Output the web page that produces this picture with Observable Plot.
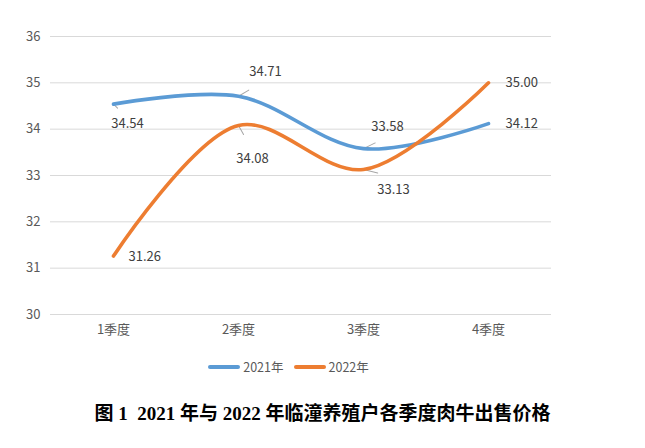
<!DOCTYPE html>
<html>
<head>
<meta charset="utf-8">
<script src="https://cdn.jsdelivr.net/npm/d3@7"></script>
<script src="https://cdn.jsdelivr.net/npm/@observablehq/plot@0.6"></script>
<style>
  body { margin: 0; background: #fff; }
  #chart svg { display: block; }
  #legend { margin-top: 8px; height: 18px; width: 645px; box-sizing: border-box; padding-right: 68px; display: flex; justify-content: center; align-items: center; gap: 10px; font-size: 12.5px; line-height: 18px; color: #595959; font-family: "Noto Sans CJK SC", sans-serif; }
  .item { display: flex; align-items: center; gap: 3px; }
  .sw { display: inline-block; width: 32px; height: 4px; border-radius: 2px; }
  #title { margin-top: 26px; width: 645px; text-align: center; font-family: "Liberation Serif", "Noto Sans CJK SC", serif; font-weight: bold; font-size: 19px; line-height: 24px; color: #000; white-space: pre; }
</style>
</head>
<body>
<div id="chart"></div>
<div id="legend"></div>
<div id="title"></div>
<script>
const quarters = ["1季度", "2季度", "3季度", "4季度"];
const series = ["2021年", "2022年"];
const values2021 = [34.54, 34.71, 33.58, 34.12];
const values2022 = [31.26, 34.08, 33.13, 35.00];
const yTicks = [30, 31, 32, 33, 34, 35, 36];
const colors = ["#5B9BD5", "#ED7D31"];
const titleText = "图 1  2021 年与 2022 年临潼养殖户各季度肉牛出售价格";

document.getElementById("title").textContent = titleText;
const legend = document.getElementById("legend");
series.forEach((s, i) => {
  const item = document.createElement("span");
  item.className = "item";
  const sw = document.createElement("span");
  sw.className = "sw";
  sw.style.background = colors[i];
  const t = document.createElement("span");
  t.textContent = s;
  item.appendChild(sw); item.appendChild(t);
  legend.appendChild(item);
});

// label placement (pixel offsets) per series/quarter: [dx, dy, anchor, leaderLength, leaderAngle]
const place2021 = [[14, 20, "middle", 11, 135], [27, -24, "middle", 23, 59], [24, -22, "middle", 25, 64], [17, 0, "start", 0, 0]];
const place2022 = [[15, 1, "start", 0, 0], [14, 33, "middle", 20, 151], [30, 20, "middle", 28, 104], [17, 0, "start", 0, 0]];

const rows = [];
quarters.forEach((q, i) => {
  rows.push({q, s: series[0], v: values2021[i], p: place2021[i]});
  rows.push({q, s: series[1], v: values2022[i], p: place2022[i]});
});

const leaderShape = { draw(ctx, l) { ctx.moveTo(0, 0); ctx.lineTo(0, -l); } };

const marks = [
  Plot.gridY(yTicks, {stroke: "#d9d9d9", strokeOpacity: 1, strokeWidth: 1}),
  Plot.axisY(yTicks, {tickSize: 0, tickPadding: 10, fontSize: 13, fill: "#595959", label: null, tickFormat: d => d}),
  Plot.axisX(quarters, {tickSize: 0, tickPadding: 10, fontSize: 13, fill: "#595959", label: null}),
  Plot.vector(rows.filter(d => d.p[3] > 0), {x: "q", y: "v", length: d => d.p[3], rotate: d => d.p[4], anchor: "start", shape: leaderShape, stroke: "#a6a6a6", strokeWidth: 1}),
  Plot.line(rows, {x: "q", y: "v", z: "s", stroke: "s", strokeWidth: 3.6, curve: "catmull-rom"}),
];
rows.forEach(r => {
  marks.push(Plot.text([r], {x: "q", y: "v", text: d => d.v.toFixed(2), dx: r.p[0], dy: r.p[1], textAnchor: r.p[2], fontSize: 13, fill: "#404040"}));
});

const chart = Plot.plot({
  width: 645,
  height: 350,
  marginLeft: 50,
  marginRight: 94,
  marginTop: 36,
  marginBottom: 36,
  style: {fontFamily: "'Noto Sans CJK SC', sans-serif", background: "#fff"},
  x: {type: "point", domain: quarters, padding: 0.5, axis: null},
  y: {domain: [30, 36], axis: null},
  color: {domain: series, range: colors},
  marks
});
document.getElementById("chart").appendChild(chart);
</script>
</body>
</html>
